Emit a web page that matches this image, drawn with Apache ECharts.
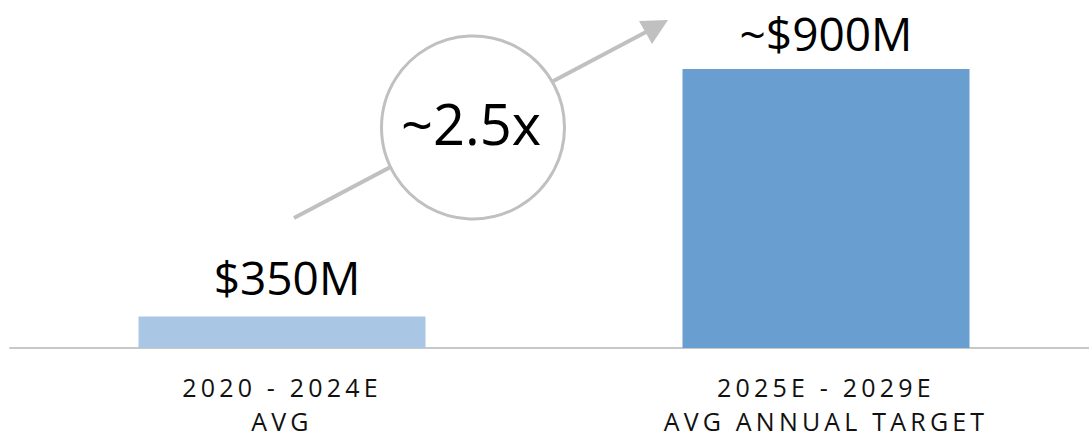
<!DOCTYPE html>
<html>
<head>
<meta charset="utf-8">
<script src="https://cdn.jsdelivr.net/npm/echarts@6/dist/echarts.min.js"></script>
<style>
  html, body { margin: 0; padding: 0; background: #fff; }
  #chart { width: 1089px; height: 438px; }
  #chart svg text[fill="#111111"], #chart svg text[fill="#111"] { letter-spacing: 4.2px; }
</style>
</head>
<body>
<div id="chart"></div>
<script>
const categories = ['2020 - 2024E\nAVG', '2025E - 2029E\nAVG ANNUAL TARGET'];
const values = [350, 900];
const valueLabels = ['$350M', '~$900M'];
const barColors = ['#aac6e5', '#689fd0'];
const multipleLabel = '~2.5x';

const chart = echarts.init(document.getElementById('chart'), null, { renderer: 'svg' });
const FONT = '"Open Sans", "Noto Sans", sans-serif';
const labelOffsets = [[5, 0], [0, 0]];
const labelDistances = [17, 13];

chart.setOption({
  animation: false,
  grid: { left: 10, width: 1088, top: 24, bottom: 90, containLabel: false, outerBoundsMode: 'none' },
  xAxis: {
    type: 'category',
    data: categories,
    axisLine: { show: true, lineStyle: { color: '#c8c8c8', width: 2 } },
    axisTick: { show: false },
    axisLabel: {
      color: '#111111',
      fontFamily: FONT,
      fontSize: 25,
      lineHeight: 34,
      margin: 22
    }
  },
  yAxis: {
    type: 'value',
    min: 280,
    max: 1000,
    show: false,
    splitLine: { show: false }
  },
  series: [{
    type: 'bar',
    barWidth: 287,
    data: values.map((v, i) => ({
      value: v,
      itemStyle: { color: barColors[i] },
      label: { offset: labelOffsets[i], distance: labelDistances[i] }
    })),
    label: {
      show: true,
      position: 'top',
      color: '#000',
      fontFamily: FONT,
      fontSize: 46,
      formatter: p => valueLabels[p.dataIndex]
    }
  }],
  graphic: [
    {
      type: 'line', z: 10,
      shape: { x1: 294, y1: 218, x2: 646, y2: 32 },
      style: { stroke: '#c0c0c0', lineWidth: 4 }
    },
    {
      type: 'polygon', z: 10,
      shape: { points: [[668, 20], [639, 21], [652, 44]] },
      style: { fill: '#c0c0c0' }
    },
    {
      type: 'circle', z: 11,
      shape: { cx: 473, cy: 127.5, r: 91.5 },
      style: { fill: '#fff', stroke: '#c0c0c0', lineWidth: 3 }
    },
    {
      type: 'text', z: 12,
      x: 471, y: 123,
      style: {
        text: multipleLabel,
        fill: '#000',
        font: '56px ' + FONT,
        align: 'center',
        verticalAlign: 'middle'
      }
    }
  ]
});
</script>
</body>
</html>
